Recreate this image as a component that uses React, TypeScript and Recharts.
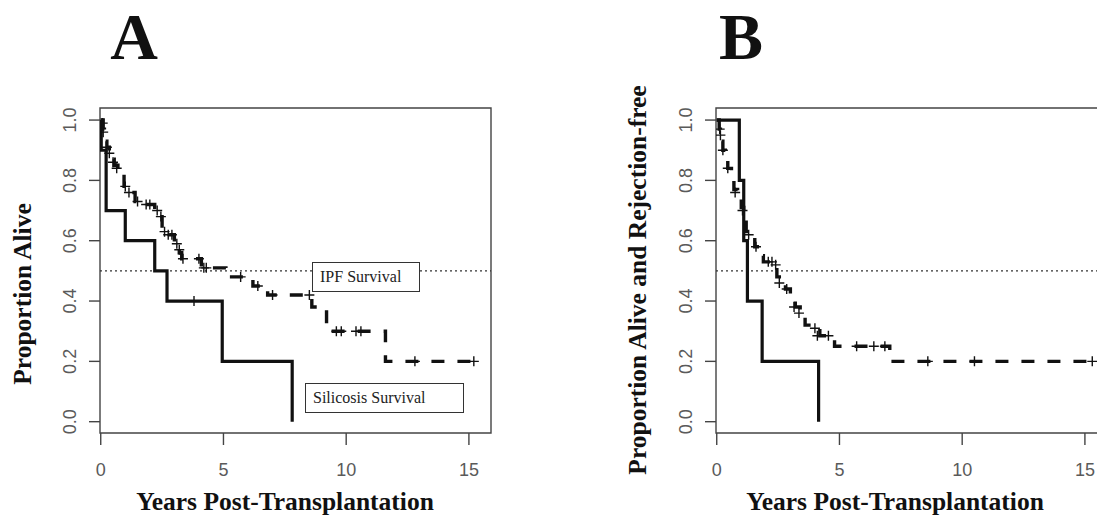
import React from "react";
import {
  ComposedChart,
  Line,
  Scatter,
  XAxis,
  YAxis,
  ReferenceLine,
  ReferenceArea,
} from "recharts";

// Kaplan-Meier curves: t = years post-transplant, s = proportion
const ipfStepsA = [
  { t: 0, s: 1.0 }, { t: 0.1, s: 0.97 }, { t: 0.15, s: 0.93 }, { t: 0.25, s: 0.91 },
  { t: 0.35, s: 0.89 }, { t: 0.45, s: 0.87 }, { t: 0.55, s: 0.85 }, { t: 0.7, s: 0.83 },
  { t: 0.95, s: 0.78 }, { t: 1.1, s: 0.76 }, { t: 1.4, s: 0.73 }, { t: 1.7, s: 0.72 },
  { t: 2.2, s: 0.7 }, { t: 2.35, s: 0.68 }, { t: 2.5, s: 0.63 }, { t: 2.8, s: 0.62 },
  { t: 3.0, s: 0.59 }, { t: 3.2, s: 0.56 }, { t: 3.3, s: 0.54 }, { t: 4.1, s: 0.51 },
  { t: 5.1, s: 0.48 }, { t: 6.2, s: 0.45 }, { t: 6.6, s: 0.44 }, { t: 6.8, s: 0.42 },
  { t: 8.6, s: 0.38 }, { t: 9.2, s: 0.3 }, { t: 11.6, s: 0.2 }, { t: 15.3, s: 0.2 },
];
const ipfCensorA = [
  { t: 0.08, s: 0.99 }, { t: 0.1, s: 0.96 }, { t: 0.25, s: 0.91 }, { t: 0.35, s: 0.89 },
  { t: 0.5, s: 0.86 }, { t: 0.65, s: 0.84 }, { t: 1.0, s: 0.78 }, { t: 1.15, s: 0.76 },
  { t: 1.5, s: 0.73 }, { t: 1.85, s: 0.72 }, { t: 2.0, s: 0.72 }, { t: 2.3, s: 0.7 },
  { t: 2.45, s: 0.68 }, { t: 2.6, s: 0.63 }, { t: 2.75, s: 0.62 }, { t: 2.9, s: 0.62 },
  { t: 3.1, s: 0.59 }, { t: 3.2, s: 0.57 }, { t: 3.35, s: 0.54 }, { t: 4.0, s: 0.54 },
  { t: 4.2, s: 0.51 }, { t: 4.3, s: 0.51 }, { t: 5.7, s: 0.48 }, { t: 6.4, s: 0.45 },
  { t: 7.0, s: 0.42 }, { t: 8.5, s: 0.42 }, { t: 9.6, s: 0.3 }, { t: 9.8, s: 0.3 },
  { t: 10.4, s: 0.3 }, { t: 10.6, s: 0.3 }, { t: 12.8, s: 0.2 }, { t: 15.2, s: 0.2 },
];
const silStepsA = [
  { t: 0, s: 1.0 }, { t: 0.02, s: 0.9 }, { t: 0.22, s: 0.7 }, { t: 1.0, s: 0.6 },
  { t: 2.2, s: 0.5 }, { t: 2.7, s: 0.4 }, { t: 4.95, s: 0.2 }, { t: 7.8, s: 0.0 },
];
const silCensorA = [{ t: 3.8, s: 0.4 }];

const ipfStepsB = [
  { t: 0, s: 1.0 }, { t: 0.1, s: 0.97 }, { t: 0.15, s: 0.93 }, { t: 0.25, s: 0.9 },
  { t: 0.35, s: 0.87 }, { t: 0.45, s: 0.84 }, { t: 0.6, s: 0.8 }, { t: 0.7, s: 0.77 },
  { t: 0.85, s: 0.74 }, { t: 1.0, s: 0.71 }, { t: 1.1, s: 0.67 }, { t: 1.2, s: 0.63 },
  { t: 1.35, s: 0.61 }, { t: 1.55, s: 0.58 }, { t: 1.75, s: 0.55 }, { t: 1.9, s: 0.53 },
  { t: 2.35, s: 0.51 }, { t: 2.45, s: 0.48 }, { t: 2.55, s: 0.46 }, { t: 2.8, s: 0.44 },
  { t: 3.0, s: 0.4 }, { t: 3.2, s: 0.38 }, { t: 3.4, s: 0.35 }, { t: 3.6, s: 0.32 },
  { t: 3.9, s: 0.31 }, { t: 4.2, s: 0.285 }, { t: 4.8, s: 0.25 }, { t: 7.05, s: 0.2 },
  { t: 15.4, s: 0.2 },
];
const ipfCensorB = [
  { t: 0.12, s: 0.97 }, { t: 0.15, s: 0.95 }, { t: 0.25, s: 0.9 }, { t: 0.45, s: 0.84 },
  { t: 0.75, s: 0.76 }, { t: 1.05, s: 0.7 }, { t: 1.3, s: 0.62 }, { t: 1.6, s: 0.58 },
  { t: 2.1, s: 0.53 }, { t: 2.25, s: 0.53 }, { t: 2.4, s: 0.52 }, { t: 2.55, s: 0.46 },
  { t: 2.85, s: 0.44 }, { t: 3.15, s: 0.38 }, { t: 3.35, s: 0.36 }, { t: 4.0, s: 0.31 },
  { t: 4.1, s: 0.285 }, { t: 4.55, s: 0.285 }, { t: 5.7, s: 0.25 }, { t: 6.4, s: 0.25 },
  { t: 6.85, s: 0.25 }, { t: 8.6, s: 0.2 }, { t: 10.5, s: 0.2 }, { t: 15.3, s: 0.2 },
];
const silStepsB = [
  { t: 0, s: 1.0 }, { t: 0.92, s: 0.8 }, { t: 1.1, s: 0.6 }, { t: 1.25, s: 0.4 },
  { t: 1.85, s: 0.2 }, { t: 4.15, s: 0.0 },
];

const xTicks = [0, 5, 10, 15];
const yTicks = [0, 0.2, 0.4, 0.6, 0.8, 1.0];
const xTitle = "Years Post-Transplantation";

const X_DOM: [number, number] = [-0.03, 15.9];
const Y_DOM: [number, number] = [-0.0375, 1.04];
const INK = "#111";
const GREY = "#5a5a5a";
const SERIF = "'Liberation Serif', 'Times New Roman', serif";
const SANS = "'Liberation Sans', Arial, sans-serif";

function Plus(props: any) {
  const { cx, cy } = props;
  if (cx == null || cy == null) return null;
  return (
    <path d={`M${cx - 5},${cy}h10M${cx},${cy - 5}v10`} stroke={INK} strokeWidth={1.4} fill="none" />
  );
}

function XTick({ x, y, payload }: any) {
  return (
    <text x={x} y={y + 23} textAnchor="middle" dominantBaseline="central" fill={GREY} fontSize={18} fontFamily={SANS}>
      {payload.value}
    </text>
  );
}

function YTick({ x, y, payload }: any) {
  const cx = x - 17;
  return (
    <text
      x={cx}
      y={y}
      transform={`rotate(-90, ${cx}, ${y})`}
      textAnchor="middle"
      dominantBaseline="central"
      fill={GREY}
      fontSize={18}
      fontFamily={SANS}
    >
      {Number(payload.value).toFixed(1)}
    </text>
  );
}

function KMChart({ ipf, ipfMarks, sil, silMarks }: any) {
  return (
    <ComposedChart width={540} height={515} margin={{ top: 108, right: 49, bottom: 40, left: 0 }}>
      <XAxis
        type="number"
        dataKey="t"
        domain={X_DOM}
        ticks={xTicks}
        height={42}
        tickSize={12}
        tickMargin={2}
        axisLine={false}
        tickLine={{ stroke: "#444", strokeWidth: 1.4 }}
        tick={<XTick />}
        allowDataOverflow
      />
      <YAxis
        type="number"
        dataKey="s"
        domain={Y_DOM}
        ticks={yTicks}
        width={100}
        tickSize={11}
        tickMargin={2}
        axisLine={false}
        tickLine={{ stroke: "#444", strokeWidth: 1.4 }}
        tick={<YTick />}
        allowDataOverflow
      />
      <ReferenceArea x1={X_DOM[0]} x2={X_DOM[1]} y1={Y_DOM[0]} y2={Y_DOM[1]} fill="none" stroke="#444" strokeWidth={1.4} />
      <ReferenceLine y={0.5} stroke="#333" strokeWidth={1.2} strokeDasharray="2 3" />
      <Line
        data={sil}
        dataKey="s"
        type="stepAfter"
        stroke={INK}
        strokeWidth={3.2}
        dot={false}
        activeDot={false}
        isAnimationActive={false}
      />
      <Line
        data={ipf}
        dataKey="s"
        type="stepAfter"
        stroke={INK}
        strokeWidth={3.4}
        strokeDasharray="13 13"
        dot={false}
        activeDot={false}
        isAnimationActive={false}
      />
      {silMarks ? <Scatter data={silMarks} dataKey="s" shape={<Plus />} isAnimationActive={false} /> : null}
      <Scatter data={ipfMarks} dataKey="s" shape={<Plus />} isAnimationActive={false} />
    </ComposedChart>
  );
}

const abs = (style: React.CSSProperties): React.CSSProperties => ({ position: "absolute", ...style });

function Label({ x, y, text, rotate, size }: any) {
  return (
    <div
      style={abs({
        left: x,
        top: y,
        transform: `translate(-50%, -50%)${rotate ? " rotate(-90deg)" : ""}`,
        whiteSpace: "nowrap",
        fontFamily: SERIF,
        fontWeight: "bold",
        fontSize: size,
        color: INK,
        lineHeight: 1,
      })}
    >
      {text}
    </div>
  );
}

function LegendBox({ x, y, w, text }: any) {
  return (
    <div
      style={abs({
        left: x,
        top: y,
        width: w,
        height: 30,
        boxSizing: "border-box",
        border: "1.4px solid #333",
        background: "#fff",
        fontFamily: SERIF,
        fontSize: 16,
        color: "#222",
        display: "flex",
        alignItems: "center",
        paddingLeft: 7,
        whiteSpace: "nowrap",
      })}
    >
      {text}
    </div>
  );
}

export default function App() {
  return (
    <div style={abs({ left: 0, top: 0, width: 1097, height: 515, overflow: "hidden", background: "#fff" })}>
      <div style={abs({ left: 0, top: 0 })}>
        <KMChart ipf={ipfStepsA} ipfMarks={ipfCensorA} sil={silStepsA} silMarks={silCensorA} />
      </div>
      <div style={abs({ left: 616, top: 0 })}>
        <KMChart ipf={ipfStepsB} ipfMarks={ipfCensorB} sil={silStepsB} />
      </div>

      <LegendBox x={312} y={262} w={108} text="IPF Survival" />
      <LegendBox x={305} y={383} w={159} text="Silicosis Survival" />

      <Label x={134} y={37} text="A" size={66} />
      <Label x={741} y={37} text="B" size={66} />
      <Label x={23} y={294} text="Proportion Alive" rotate size={25.5} />
      <Label x={638} y={280} text="Proportion Alive and Rejection-free" rotate size={25.5} />
      <Label x={285} y={502} text={xTitle} size={25.5} />
      <Label x={895} y={502} text={xTitle} size={25.5} />
    </div>
  );
}
